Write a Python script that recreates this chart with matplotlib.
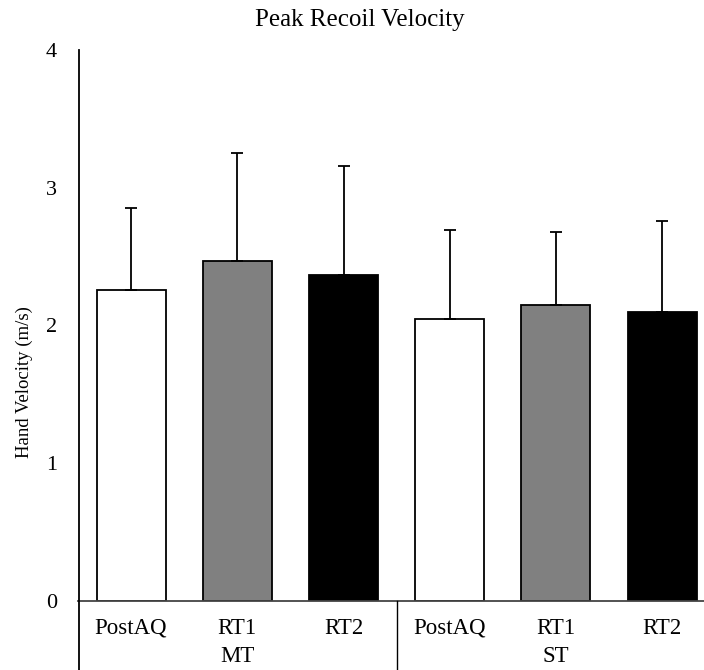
import matplotlib
matplotlib.use("Agg")
import matplotlib.pyplot as plt
from matplotlib.lines import Line2D

# ---- data ----
groups = ["MT", "ST"]
conditions = ["PostAQ", "RT1", "RT2"]
means = [2.26, 2.47, 2.37, 2.05, 2.15, 2.10]
errors = [0.59, 0.78, 0.79, 0.64, 0.53, 0.66]
colors = ["#ffffff", "#808080", "#000000"]
yticks = [0, 1, 2, 3, 4]

plt.rcParams["font.family"] = ["Liberation Serif", "DejaVu Serif"]

W, H = 704, 670
fig = plt.figure(figsize=(W / 100, H / 100), dpi=100)

left_px, bottom_px, top_px, right_px = 78, 601, 50, 704
ax = fig.add_axes([left_px / W, 1 - bottom_px / H,
                   (right_px - left_px) / W, (bottom_px - top_px) / H])

n = len(groups) * len(conditions)
xs = list(range(n))
bar_colors = [colors[i % len(conditions)] for i in range(n)]

ax.bar(xs, means, width=0.65, color=bar_colors, edgecolor="black",
       linewidth=1.3, zorder=2)
ax.errorbar(xs, means, yerr=[[0] * n, errors], fmt="none", ecolor="black",
            elinewidth=1.3, capsize=4, capthick=1.3, zorder=3)

slot = 106.2
ax.set_xlim(-0.5, -0.5 + (right_px - left_px) / slot)
ax.set_ylim(0, 4)
ax.set_yticks(yticks)
ax.set_yticklabels([str(t) for t in yticks], fontsize=16)
ax.tick_params(axis="y", length=0, pad=15)
ax.set_xticks([])
for s in ["top", "right", "left", "bottom"]:
    ax.spines[s].set_visible(False)

# baseline
ax.axhline(0, color="#444444", linewidth=1.3, zorder=4, clip_on=False)

# y axis line extending to bottom of figure
fig.add_artist(Line2D([left_px / W + 0.0015] * 2, [0, 1 - top_px / H],
                      color="black", linewidth=1.3))
# group separator
sep_x = (left_px + 3 * slot) / W
fig.add_artist(Line2D([sep_x, sep_x], [0, 1 - bottom_px / H],
                      color="black", linewidth=1.0))

# category labels
for i in range(n):
    xpix = left_px + (i + 0.5) * slot
    fig.text(xpix / W, 1 - 628 / H, conditions[i % len(conditions)],
             ha="center", va="center", fontsize=16.5)
for g, name in enumerate(groups):
    xpix = left_px + (g * 3 + 1.5) * slot
    fig.text(xpix / W, 1 - 657 / H, name, ha="center", va="center",
             fontsize=16.5)

fig.text(360 / W, 1 - 20 / H, "Peak Recoil Velocity", ha="center",
         va="center", fontsize=18)
fig.text(24 / W, 1 - 382 / H, "Hand Velocity (m/s)", ha="center",
         va="center", rotation=90, fontsize=13.5)

fig.savefig("out.png", dpi=100)
